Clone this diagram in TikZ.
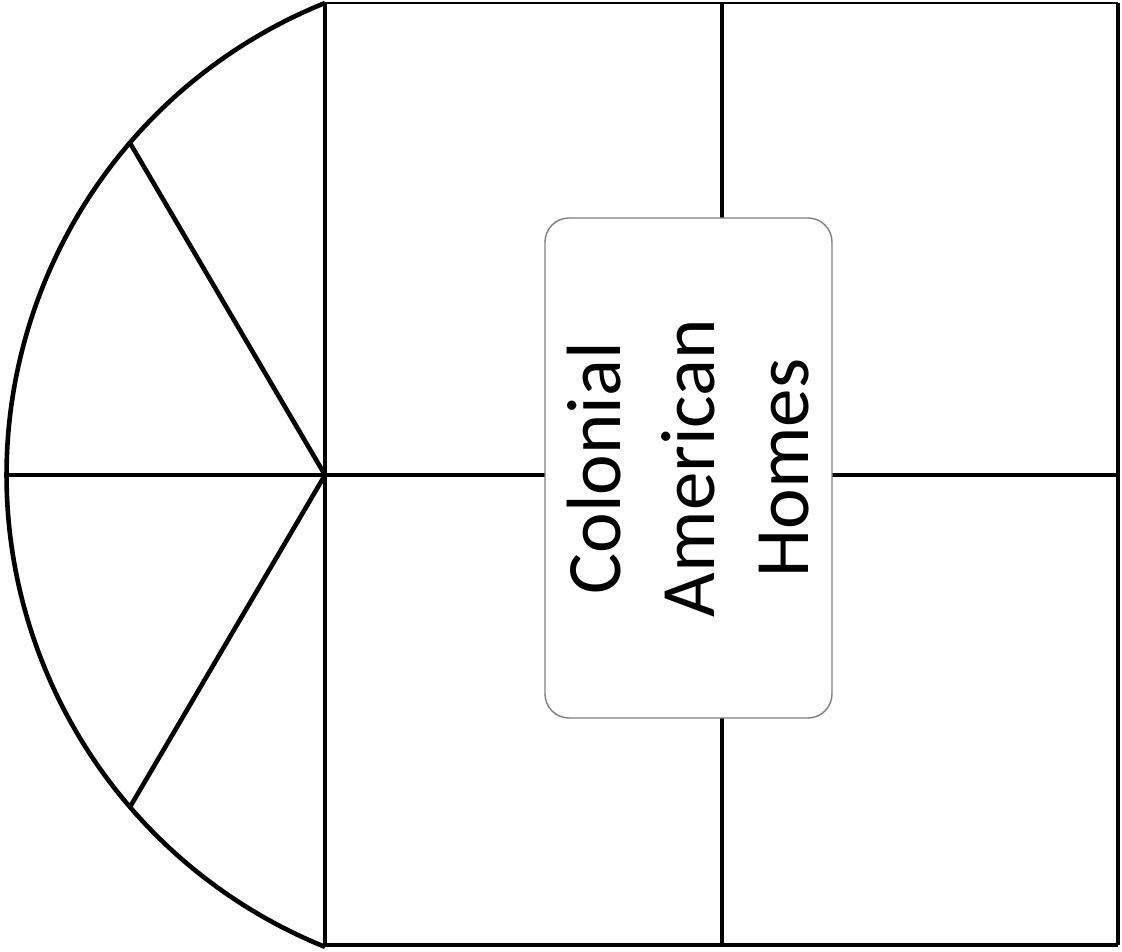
\documentclass[tikz,border=0pt]{standalone}
\usepackage{fontspec}
\setmainfont{Carlito}
\usepackage{xcolor}
\definecolor{boxgray}{HTML}{7F7F7F}

\begin{document}
\begin{tikzpicture}[
      x=1pt, y=1pt,
      every node/.style={font=\fontsize{77}{94}\selectfont},
      rule/.style={line width=4.6pt, draw=black},
      thinrule/.style={line width=2.4pt, draw=black},
      titlebox/.style={
        rounded corners=24pt,
        draw=boxgray,
        fill=white,
        line width=1.4pt,
        minimum width=500pt,
        minimum height=287pt,
        align=center,
        rotate=90
      }
    ]
      \useasboundingbox (0,0) rectangle (1122,952);
      % grid corners
      \coordinate (tl) at (325,949);
      \coordinate (tm) at (722,949);
      \coordinate (tr) at (1118,949);
      \coordinate (bl) at (325,7);
      \coordinate (bm) at (722,7);
      \coordinate (br) at (1118,7);
      \coordinate (ml) at (325,477);
      \coordinate (mr) at (1118,477);
      % half wheel
      \draw[rule] (tl) arc[start angle=112, end angle=248, radius=509];
      \coordinate (w0) at (7,477);
      \coordinate (w1) at (130,809);
      \coordinate (w2) at (130,145);
      \draw[rule] (ml) -- (w1);
      \draw[rule] (ml) -- (w2);
      \draw[rule] (w0) -- (mr);
      % quarters
      \draw[rule] (tl) -- (bl);
      \draw[rule] (tm) -- (bm);
      \draw[rule] (tr) -- (br);
      \draw[rule] (bl) -- (br);
      \draw[thinrule] (tl) -- (tr);
      % title
      \node[titlebox] (title) at (688.5,484) {Colonial\\American\\Homes};
    \end{tikzpicture}
\end{document}
